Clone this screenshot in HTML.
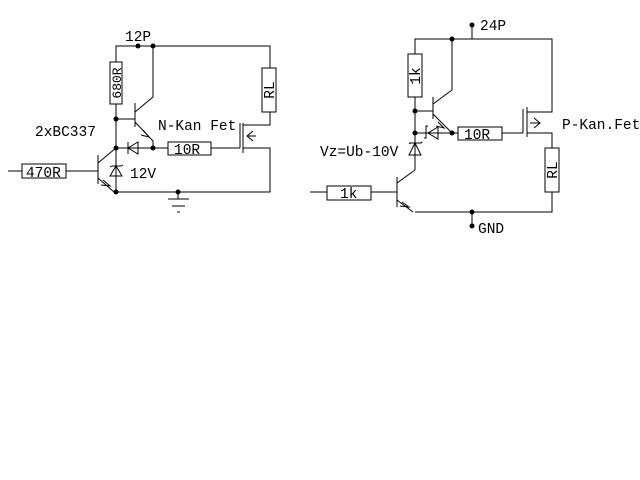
<!DOCTYPE html>
<html><head><style>
html,body{margin:0;padding:0;background:#fff;}
svg{display:block}
text{font-family:"Liberation Mono",monospace;font-size:14.5px;fill:#000}
</style></head><body>
<svg width="640" height="480" viewBox="0 0 640 480" xmlns="http://www.w3.org/2000/svg">
<g stroke="#000" stroke-width="1" fill="none" shape-rendering="crispEdges">
<!-- LEFT -->
<polyline points="116,62 116,46 270,46 270,68"/>
<rect x="110" y="62" width="12" height="42" fill="#fff"/>
<line x1="116" y1="104" x2="116" y2="192"/>
<rect x="262" y="68" width="14" height="44" fill="#fff"/>
<polyline points="270,112 270,125 243,125"/>
<polyline points="243,148 270,148 270,192 116,192"/>
<line x1="240" y1="123" x2="240" y2="148"/>
<line x1="243" y1="123" x2="243" y2="153"/>
<line x1="211" y1="148" x2="240" y2="148"/>
<rect x="168" y="142" width="43" height="13" fill="#fff"/>
<line x1="153" y1="148" x2="168" y2="148"/>
<line x1="116" y1="148" x2="153" y2="148"/>
<line x1="128" y1="142" x2="128" y2="154"/>
<line x1="135" y1="103" x2="135" y2="127"/>
<line x1="116" y1="119" x2="135" y2="119"/>
<line x1="153" y1="46" x2="153" y2="97"/>
<line x1="178" y1="192" x2="178" y2="199"/>
<line x1="168" y1="199" x2="189" y2="199"/>
<line x1="172" y1="206" x2="185" y2="206"/>
<line x1="177" y1="212" x2="180" y2="212"/>
<line x1="98" y1="155" x2="98" y2="184"/>
<line x1="8" y1="171" x2="22" y2="171"/>
<rect x="22" y="164" width="44" height="14" fill="#fff"/>
<line x1="66" y1="171" x2="98" y2="171"/>
<polyline points="110,167 112,166 121,166 123,165"/>
<!-- RIGHT -->
<line x1="472" y1="25" x2="472" y2="39"/>
<polyline points="415,54 415,39 552,39 552,112 527,112"/>
<rect x="408" y="54" width="14" height="43" fill="#fff"/>
<line x1="415" y1="97" x2="415" y2="170"/>
<line x1="452" y1="39" x2="452" y2="90"/>
<line x1="433" y1="97" x2="433" y2="119"/>
<line x1="415" y1="111" x2="433" y2="111"/>
<line x1="415" y1="133" x2="458" y2="133"/>
<polyline points="424,138 426,138 426,126 428,126"/>
<rect x="458" y="127" width="44" height="13" fill="#fff"/>
<line x1="502" y1="133" x2="523" y2="133"/>
<line x1="523" y1="109" x2="523" y2="133"/>
<line x1="527" y1="107" x2="527" y2="137"/>
<polyline points="527,133 552,133 552,148"/>
<rect x="545" y="148" width="14" height="44" fill="#fff"/>
<polyline points="552,192 552,212 415,212"/>
<line x1="472" y1="212" x2="472" y2="226"/>
<polyline points="409,144 410,143 421,143 422,142"/>
<line x1="397" y1="177" x2="397" y2="207"/>
<line x1="310" y1="192" x2="327" y2="192"/>
<rect x="327" y="186" width="44" height="14" fill="#fff"/>
<line x1="371" y1="192" x2="397" y2="192"/>
</g>
<g stroke="#000" stroke-width="1" fill="none">
<polyline points="135,112 153,97"/>
<polyline points="135,122 153,141 153,148"/>
<polyline points="143,130 149,137 141,135"/>
<polygon points="128,148 138,142 138,154"/>
<polyline points="98,163 116,148"/>
<polyline points="98,178 114,192"/>
<polyline points="103,180 110,186 101,185"/>
<polygon points="116,166 110,176 122,176"/>
<polyline points="256,136 247,136"/>
<polyline points="253,131 247,136 253,141"/>
<polyline points="433,104 452,90"/>
<polyline points="433,114 452,133"/>
<polyline points="438,122 444,128 436,126"/>
<polygon points="428,133 438,127 438,139"/>
<polyline points="530,123 540,123"/>
<polyline points="534,118 540,123 534,128"/>
<polygon points="415,143 409,155 421,155"/>
<polyline points="397,183 415,170"/>
<polyline points="397,200 413,212"/>
<polyline points="402,202 409,207 400,206"/>
</g>
<g fill="#000">
<circle cx="138" cy="46" r="2.5"/><circle cx="153" cy="46" r="2.5"/>
<circle cx="116" cy="119" r="2.5"/><circle cx="116" cy="148" r="2.5"/>
<circle cx="153" cy="148" r="2.5"/><circle cx="116" cy="192" r="2.5"/>
<circle cx="178" cy="192" r="2.5"/>
<circle cx="472" cy="25" r="2.5"/><circle cx="452" cy="39" r="2.5"/>
<circle cx="415" cy="111" r="2.5"/><circle cx="415" cy="133" r="2.5"/>
<circle cx="452" cy="133" r="2.5"/><circle cx="472" cy="212" r="2.5"/>
<circle cx="472" cy="226" r="2.5"/>
</g>
<text x="125" y="41">12P</text>
<text x="35" y="136">2xBC337</text>
<text x="158" y="130">N-Kan Fet</text>
<text x="130" y="178">12V</text>
<text x="26" y="177">470R</text>
<text x="174" y="154">10R</text>
<text transform="translate(121,83) rotate(-90)" text-anchor="middle" style="font-size:13px">680R</text>
<text transform="translate(274,90) rotate(-90)" text-anchor="middle">RL</text>
<text x="480" y="30">24P</text>
<text x="478" y="233">GND</text>
<text x="320" y="156">Vz=Ub-10V</text>
<text x="562" y="129">P-Kan.Fet</text>
<text x="464" y="139">10R</text>
<text x="340" y="198">1k</text>
<text transform="translate(420,76) rotate(-90)" text-anchor="middle">1k</text>
<text transform="translate(557,170) rotate(-90)" text-anchor="middle">RL</text>
</svg>
</body></html>
